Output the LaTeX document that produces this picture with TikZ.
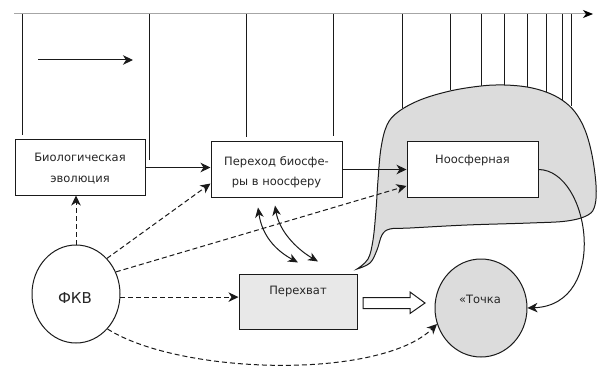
\documentclass[tikz,border=0pt]{standalone}
\usepackage{fontspec}
\setmainfont{DejaVu Sans}
\usetikzlibrary{arrows.meta,shapes.geometric,calc}
\definecolor{blobgray}{HTML}{DCDCDC}
\definecolor{boxgray}{HTML}{E8E8E8}
\definecolor{ink}{HTML}{1A1A1A}
\begin{document}
\begin{tikzpicture}[x=1pt,y=-1pt,
  ln/.style={line width=1pt, draw=ink},
  box/.style={draw=ink, line width=1pt, fill=white, inner sep=0pt},
  txt/.style={font=\fontsize{11.5}{20.5}\selectfont, text=black!85, align=center, inner sep=0pt},
  tip/.style={-{Stealth[length=10pt,width=9.5pt,inset=3pt]}},
  arr/.style={line width=1pt, draw=ink, tip},
  darr/.style={arr, dash pattern=on 5pt off 3pt},
  dbl/.style={line width=1pt, draw=ink, {Stealth[length=10pt,width=8.5pt,inset=3pt]}-{Stealth[length=10pt,width=8.5pt,inset=3pt]}},
]
\useasboundingbox (0,0) rectangle (601,371);
\fill[white] (0,0) rectangle (601,371);

% time axis
\draw[line width=1pt, draw=gray!70, -{Stealth[length=10pt,width=8pt,inset=3pt,color=black]}] (14,14) -- (593,14);
% vertical marks
\foreach \x/\y in {22/135,149/160,246/137,333/136,402/108,450/90,481/86,504/85,527/87,546/92,562/100,571/106}
  \draw[ln] (\x,14) -- (\x,\y);
% small arrow
\draw[arr] (38,60) -- (133,60);

% noosphere blob
\draw[ln, fill=blobgray] plot[smooth, tension=0.6] coordinates {
  (357,269) (368,259) (373,240) (376,210) (378,180) (381,148) (387,125) (398,112)
  (420,100) (450,91) (481,86) (504,85) (527,87) (546,92) (562,100) (575,112)
  (585,130) (592,155) (596,185) (595,205) (588,215) (567,221) (530,223) (467,225)
  (410,228) (390,229) (382,235) (377,250) (370,263) (357,269)} -- cycle;

% boxes
\node[box, minimum width=130pt, minimum height=55pt] (bio) at (80,167.5) {};
\node[txt] (bioT) at (80,168.5) {Биологическая\\эволюция};
\node[box, minimum width=131pt, minimum height=55pt] (trans) at (276.5,169.5) {};
\node[txt] (transT) at (276.5,172) {Переход биосфе-\\ры в ноосферу};
\node[box, minimum width=131pt, minimum height=55pt] (noo) at (472.5,169.5) {};
\node[txt] (nooT) at (472.5,160.5) {Ноосферная};
\node[box, fill=boxgray, minimum width=118pt, minimum height=55pt] (perex) at (298,301.5) {};
\node[txt] (perexT) at (298,292) {Перехват};

% circles
\node[ellipse, draw=ink, line width=1pt, fill=white, minimum width=88pt, minimum height=98pt, inner sep=0pt] (fkv) at (76,294) {};
\node[txt, font=\fontsize{15}{18}\selectfont] (fkvT) at (75,298) {ФКВ};
\node[ellipse, draw=ink, line width=1pt, fill=blobgray, minimum width=92pt, minimum height=98pt, inner sep=0pt] (tochka) at (481,308) {};
\node[txt] (tochkaT) at (480,299) {«Точка};

% solid connectors
\draw[arr] (bio.east) -- (bio.east -| trans.west);
\draw[arr] (trans.east) -- (noo.west);
\draw[arr] (noo.east) .. controls (590,170) and (610,305) .. (tochka.east);

% dashed connectors
\draw[darr] (fkv.north) -- (fkv.north |- bio.south);
\draw[darr] (fkv.49) -- (trans.192);
\draw[darr] (fkv.29) -- (noo.194);
\draw[darr] (fkv.-4) -- (fkv.-4 -| perex.west);
\draw[darr] (fkv.-48) .. controls (180,375) and (380,380) .. (tochka.200);

% double-headed curved arrows
\draw[dbl] ($(trans.south)+(-18.5,10)$) .. controls (262,235) and (275,250) .. ($(perex.north)+(0,-11)$);
\draw[dbl] ($(trans.south)+(-1.5,8)$) .. controls (279,230) and (295,248) .. ($(perex.north)+(20,-12)$);

% hollow block arrow
\draw[ln, fill=white] (363,297.5) -- (410,297.5) -- (410,292) -- (425,303) -- (410,313.5) -- (410,308.5) -- (363,308.5) -- cycle;
\end{tikzpicture}
\end{document}
